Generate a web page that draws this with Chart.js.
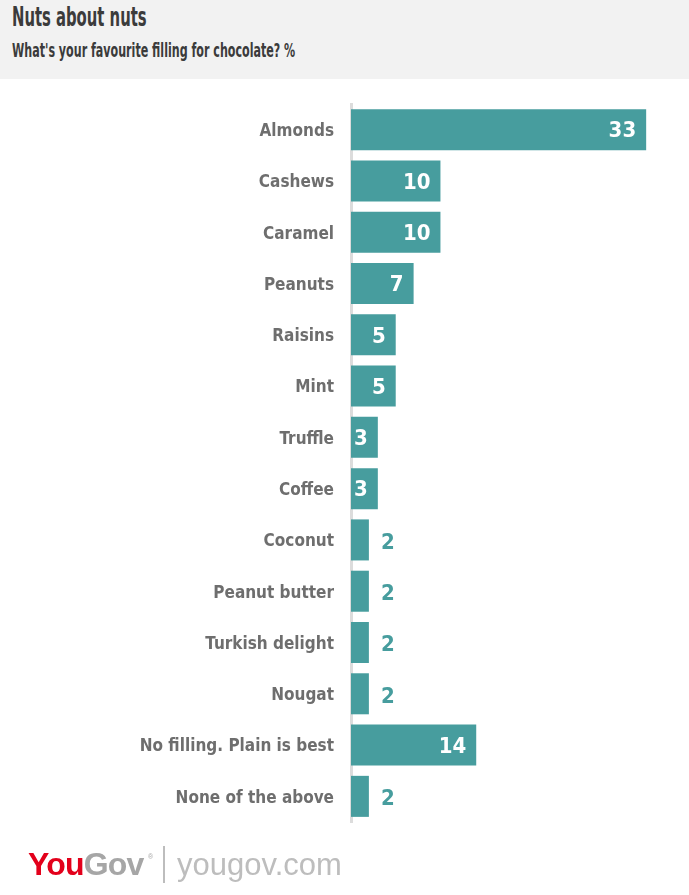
<!DOCTYPE html>
<html>
<head>
<meta charset="utf-8">
<script src="https://cdn.jsdelivr.net/npm/chart.js@4/dist/chart.umd.min.js"></script>
<style>
  body { margin: 0; background: #fff; }
  #wrap { position: relative; width: 689px; height: 895px; overflow: hidden; font-family: "DejaVu Sans Condensed", "Liberation Sans Narrow", sans-serif; }
  #head { position: absolute; left: 0; top: 0; width: 689px; height: 79px; background: #f2f2f2; }
  #title { position: absolute; left: 12px; top: 3px; font-size: 27px; line-height: 1; font-weight: bold; color: #3b3b3b; white-space: nowrap; transform: scaleX(0.61); transform-origin: 0 0; }
  #sub { position: absolute; left: 12px; top: 41px; font-size: 19px; line-height: 1; font-weight: bold; color: #3b3b3b; white-space: nowrap; transform: scaleX(0.65); transform-origin: 0 0; }
  #chart { position: absolute; left: 0; top: 0; }
  #logo span { position: absolute; line-height: 1; white-space: nowrap; font-family: "Liberation Sans", Arial, sans-serif; }
  #you { left: 28px; top: 848px; font-size: 32px; font-weight: bold; letter-spacing: -0.8px; }
  #you b { color: #e3001b; }
  #you i { font-style: normal; color: #a6a6a6; }
  #reg { left: 148px; top: 853px; font-size: 7px; color: #a6a6a6; }
  #sep { left: 163px; top: 846px; width: 2px; height: 37px; background: #bdbdbd; }
  #url { left: 177px; top: 849px; font-size: 31px; color: #bdbdbd; }
</style>
</head>
<body>
<div id="wrap">
  <div id="head">
    <div id="title">Nuts about nuts</div>
    <div id="sub">What's your favourite filling for chocolate? %</div>
  </div>
  <canvas id="chart" width="689" height="895"></canvas>
  <div id="logo">
    <span id="you"><b>You</b><i>Gov</i></span>
    <span id="reg">®</span>
    <span id="sep"></span>
    <span id="url">yougov.com</span>
  </div>
</div>
<script>
const fillings = ['Almonds', 'Cashews', 'Caramel', 'Peanuts', 'Raisins', 'Mint', 'Truffle',
  'Coffee', 'Coconut', 'Peanut butter', 'Turkish delight', 'Nougat',
  'No filling. Plain is best', 'None of the above'];
const shares = [33, 10, 10, 7, 5, 5, 3, 3, 2, 2, 2, 2, 14, 2];

const teal = '#479d9e';
const fontFam = '"DejaVu Sans Condensed", "Liberation Sans Narrow", sans-serif';

// value labels: inside the bar in white, small ones outside in teal
const valueLabels = {
  id: 'valueLabels',
  afterDatasetsDraw(chart) {
    const ctx = chart.ctx;
    const meta = chart.getDatasetMeta(0);
    ctx.save();
    ctx.font = 'bold 22px ' + fontFam;
    ctx.textBaseline = 'middle';
    meta.data.forEach((bar, i) => {
      const v = shares[i];
      if (v >= 3) {
        ctx.fillStyle = '#ffffff';
        ctx.textAlign = 'right';
        ctx.fillText(v, bar.x - 10, bar.y + 2);
      } else {
        ctx.fillStyle = teal;
        ctx.textAlign = 'left';
        ctx.fillText(v, bar.x + 12, bar.y + 3);
      }
    });
    ctx.restore();
  }
};

new Chart(document.getElementById('chart'), {
  type: 'bar',
  data: {
    labels: fillings,
    datasets: [{
      data: shares,
      backgroundColor: teal,
      categoryPercentage: 1,
      barPercentage: 0.8
    }]
  },
  options: {
    indexAxis: 'y',
    responsive: false,
    animation: false,
    events: [],
    layout: { padding: { top: 104, bottom: 73, left: 0, right: 16 } },
    plugins: { legend: { display: false }, tooltip: { enabled: false } },
    scales: {
      x: { display: false, min: 0, max: 36 },
      y: {
        afterFit(scale) { scale.width = 351; },
        grid: { display: false, drawTicks: false },
        border: { display: true, color: '#dcdcdc', width: 3 },
        ticks: {
          padding: 17,
          labelOffset: 2,
          color: '#6e6e6e',
          font: { family: fontFam, size: 17, weight: 'bold' }
        }
      }
    }
  },
  plugins: [valueLabels]
});
</script>
</body>
</html>
